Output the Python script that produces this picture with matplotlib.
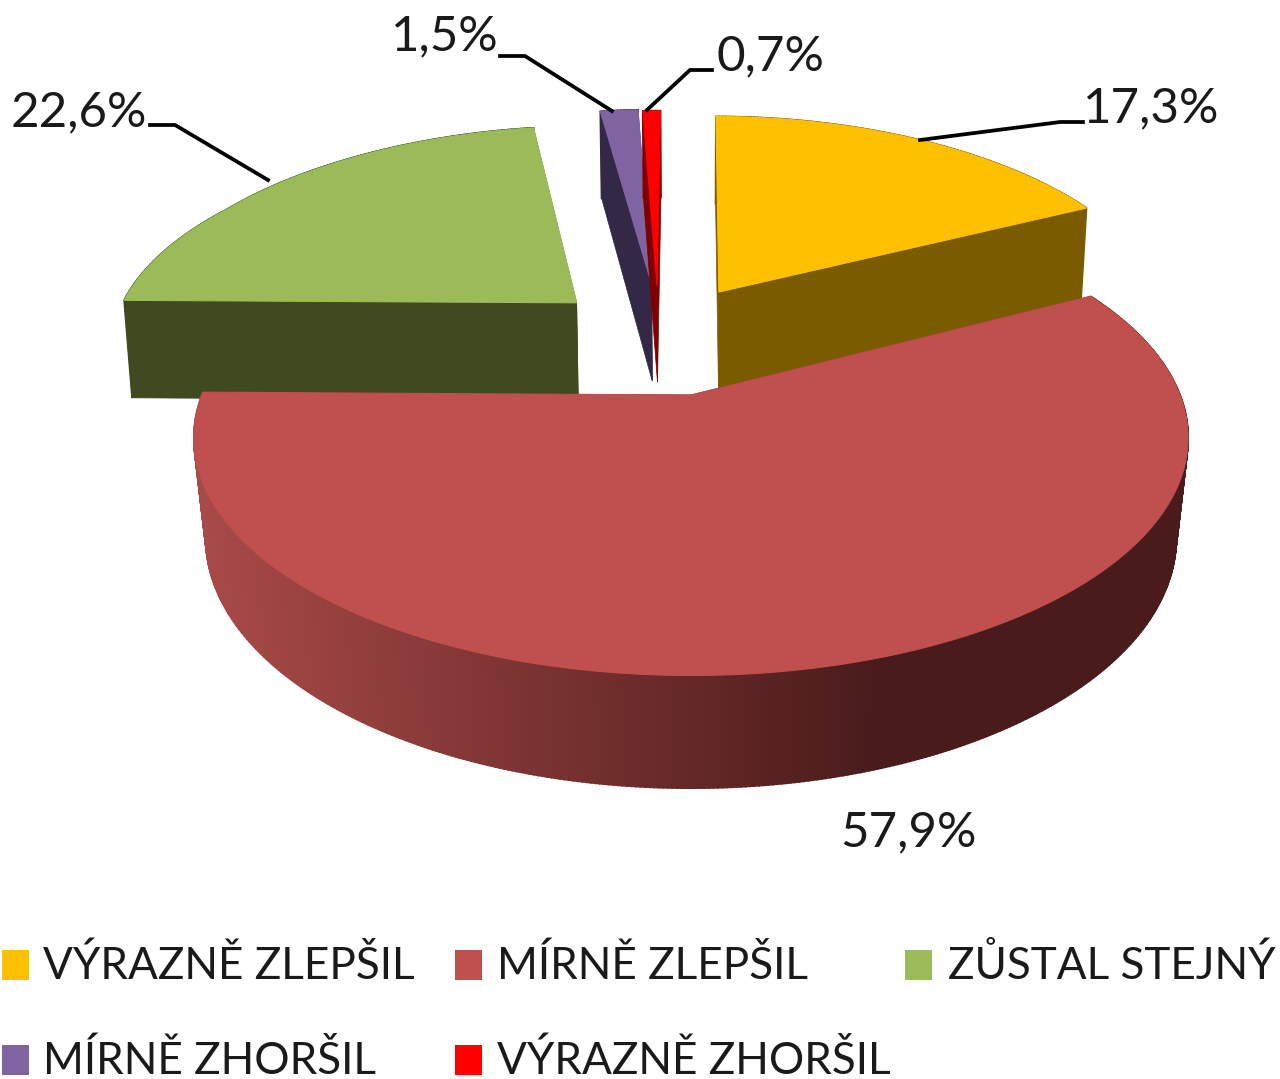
import numpy as np
import matplotlib
matplotlib.use("Agg")
import matplotlib.pyplot as plt
from matplotlib.patches import Polygon, Rectangle

categories = ["VÝRAZNĚ ZLEPŠIL", "MÍRNĚ ZLEPŠIL", "ZŮSTAL STEJNÝ", "MÍRNĚ ZHORŠIL", "VÝRAZNĚ ZHORŠIL"]
values = [17.3, 57.9, 22.6, 1.5, 0.7]
labels = ["17,3%", "57,9%", "22,6%", "1,5%", "0,7%"]
top_colors = ["#FFC000", "#C0504D", "#9BBB59", "#8064A2", "#FF0000"]
wall_colors = ["#7A5B00", "#4E1C1C", "#3F4A20", "#332845", "#7F0000"]
# explosion of each slice in pie-radius units (x, y toward the back)
explode = [(0.062, 0.487), (0.0, 0.0), (-0.252, 0.432), (-0.088, 0.526), (-0.076, 0.520)]

CX, CY, A, B, K, D = 691, 395, 489, 230, 0.18, 98


def project(X, Y, z=0.0, narrow=0.024, depth=1.0):
    X = np.asarray(X, float)
    Y = np.asarray(Y, float)
    w = 1 + K * Y
    far = np.maximum(Y - 0.95, 0)
    x = A * X / w * (1 + 0.08 * far) * (1 - narrow * z)
    y = B * Y / w + 30 * far ** 2
    return CX + x, CY - y + z * depth * D / w ** 0.7


def lerp(c1, c2, t):
    c1 = np.array(matplotlib.colors.to_rgb(c1))
    c2 = np.array(matplotlib.colors.to_rgb(c2))
    return tuple(c1 + (c2 - c1) * np.clip(t, 0, 1))


fig = plt.figure(figsize=(12.8, 10.79), dpi=100)
ax = fig.add_axes([0, 0, 1, 1])
ax.set_xlim(0, 1280)
ax.set_ylim(1079, 0)
ax.axis("off")

edges = np.concatenate([[0], np.cumsum(values)]) / 100 * 2 * np.pi
order = [2, 3, 4, 0, 1]
for zi, i in enumerate(order):
    t0, t1 = edges[i], edges[i + 1]
    ex, ey = explode[i]
    th = np.linspace(t0, t1, max(4, int(values[i] * 8)))
    ox, oy = ex + np.sin(th), ey + np.cos(th)
    z = 10 + zi * 3
    nr = 0.024 if i == 1 else 0.014
    dp = 1.0 if i == 1 else 1.05
    # radial walls
    walls = sorted([t0, t1], key=lambda a: -np.cos(a))
    for a in walls:
        sx, sy = ex + np.sin(a), ey + np.cos(a)
        a0 = project(ex, ey)
        a1 = project(sx, sy)
        a2 = project(sx, sy, 1, nr, dp)
        a3 = project(ex, ey, 1, nr, dp)
        ax.add_patch(Polygon([a0, a1, a2, a3], fc=wall_colors[i], ec=wall_colors[i], lw=0.5, zorder=z))
    # outer wall
    for j in range(len(th) - 1):
        x0, y0 = project(ox[j], oy[j])
        x1, y1 = project(ox[j + 1], oy[j + 1])
        x2, y2 = project(ox[j + 1], oy[j + 1], 1, nr, dp)
        x3, y3 = project(ox[j], oy[j], 1, nr, dp)
        col = wall_colors[i]
        if i == 1:
            col = lerp("#A84A47", "#4A1B1B", ((x0 + x1) / 2 - 200) / 680)
        ax.add_patch(Polygon([(x0, y0), (x1, y1), (x2, y2), (x3, y3)], fc=col, ec=col, lw=1.3, zorder=z + 1))
    # top face
    px, py = project(np.r_[ex, ox], np.r_[ey, oy])
    ax.add_patch(Polygon(np.c_[px, py], fc=top_colors[i], ec=top_colors[i], lw=0.8, zorder=z + 2))

FONT = "Lato"
TXT = "#1a1a1a"
label_pos = [(1151, 108), (908, 832), (79, 112), (445, 36), (770, 56)]
for s, (x, y) in zip(labels, label_pos):
    ax.text(x, y, s, ha="center", va="center", fontsize=35.5, family=FONT, color=TXT, zorder=40)

leaders = [
    [(1083, 122), (1060, 122), (920, 140)],
    [(150, 125), (175, 125), (268, 180)],
    [(500, 56), (525, 56), (612, 111)],
    [(712, 70), (690, 70), (647, 110)],
]
for pts in leaders:
    p = np.array(pts)
    ax.plot(p[:, 0], p[:, 1], color="black", lw=2.7, zorder=35, solid_joinstyle="miter")

legend_pos = [(2, 43, 966), (455, 497, 966), (905, 948, 966), (2, 43, 1061), (455, 497, 1061)]
for i, (bx, tx, y) in enumerate(legend_pos):
    ax.add_patch(Rectangle((bx, y - 16), 27, 30, fc=top_colors[i], ec="none", zorder=30))
    ax.text(tx, y, categories[i], ha="left", va="center", fontsize=31.8, family=FONT, color=TXT, zorder=40)

fig.savefig("out.png", dpi=100, facecolor="white")
